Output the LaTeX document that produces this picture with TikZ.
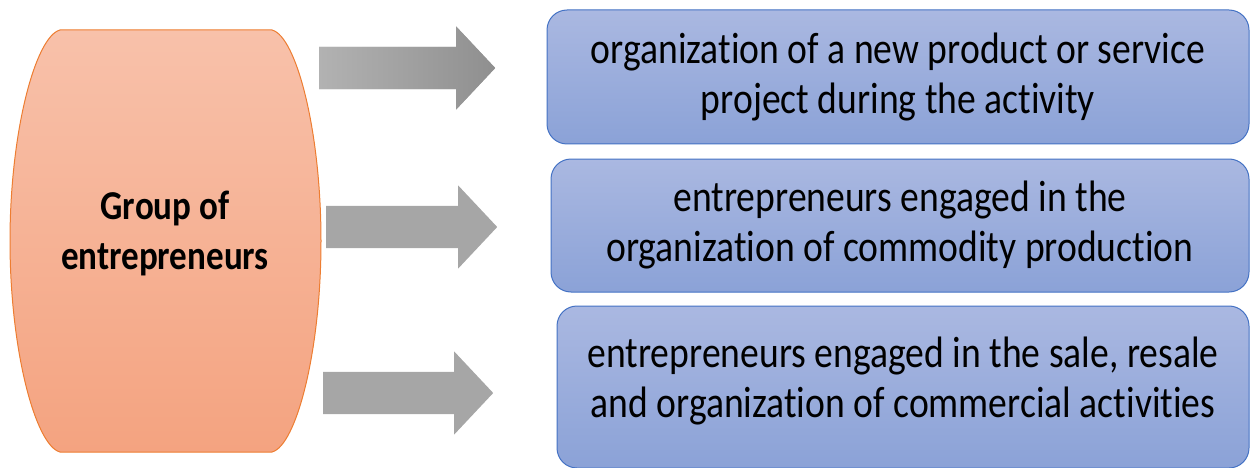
\documentclass[tikz,border=0pt]{standalone}
\usepackage{fontspec}
\setmainfont{Carlito}[FakeStretch=0.855, Ligatures=NoCommon]
\usetikzlibrary{shapes.arrows}
\definecolor{grptop}{RGB}{248,193,170}
\definecolor{grpbottom}{RGB}{244,163,128}
\definecolor{grpline}{RGB}{237,125,49}
\definecolor{boxtop}{RGB}{170,184,225}
\definecolor{boxbottom}{RGB}{139,162,215}
\definecolor{boxline}{RGB}{68,114,196}
\definecolor{arrowgrey}{RGB}{166,166,166}
\definecolor{arrowlight}{RGB}{178,178,178}
\definecolor{arrowdark}{RGB}{143,143,143}
\tikzset{
  box/.style={
    draw=boxline,
    line width=1pt,
    rounded corners=20pt,
    top color=boxtop,
    bottom color=boxbottom,
    align=center,
    inner sep=0pt,
    font=\fontsize{44}{50}\selectfont
  },
  blockarrow/.style={
    single arrow,
    fill=arrowgrey,
    anchor=tail,
    inner xsep=0pt,
    inner ysep=21pt,
    single arrow head extend=20.5pt,
    single arrow tip angle=93.6
  },
  grouplabel/.style={font=\bfseries\fontsize{41}{50}\selectfont, align=center}
}

\begin{document}
\begin{tikzpicture}[x=1pt,y=-1pt]
  \useasboundingbox (0,0) rectangle (1250,468);
  \clip (0,0) rectangle (1250,468);

  % barrel on the left
  \path[draw=grpline, line width=1pt, top color=grptop, bottom color=grpbottom]
    (60,30) -- (272,30) .. controls (296,36) and (321,130) .. (321,241)
    .. controls (321,352) and (296,446) .. (272,452) -- (60,452)
    .. controls (36,446) and (10,352) .. (10,241)
    .. controls (10,130) and (36,36) .. (60,30) -- cycle;
  \node[grouplabel] (group) at (165,233) {Group of\\entrepreneurs};

  \node[box, minimum width=702pt, minimum height=134pt] (project) at (898,77)
    {organization of a new product or service\\project during the activity};
  \node[box, minimum width=698pt, minimum height=133pt] (production) at (900,225.5)
    {entrepreneurs engaged in the\\organization of commodity production};
  \node[box, minimum width=692pt, minimum height=162pt] (trade) at (903,387)
    {entrepreneurs engaged in the sale, resale\\and organization of commercial activities\\[-30pt]};

  \node[blockarrow, minimum height=176pt, left color=arrowlight, right color=arrowdark] (toproject) at (319,68) {};
  \foreach \name/\x/\y/\len in {toproduction/326/227/171, totrade/323/393/170}
    \node[blockarrow, minimum height=\len pt] (\name) at (\x,\y) {};
\end{tikzpicture}
\end{document}
